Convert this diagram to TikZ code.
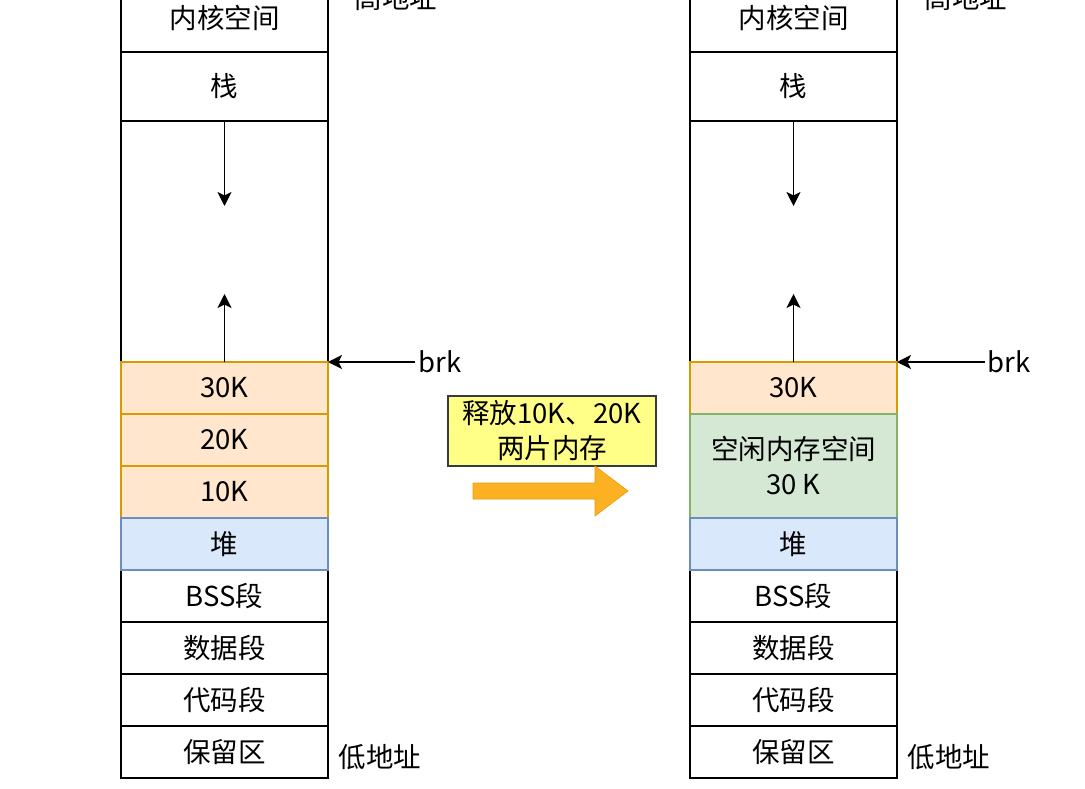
\documentclass[tikz,border=0pt]{standalone}
\usepackage{fontspec}
\setmainfont{Noto Sans CJK SC}
\usetikzlibrary{arrows.meta}
\definecolor{orfill}{HTML}{FFE6CC}
\definecolor{orline}{HTML}{D79B00}
\definecolor{grfill}{HTML}{D5E8D4}
\definecolor{grline}{HTML}{82B366}
\definecolor{blfill}{HTML}{DAE8FC}
\definecolor{blline}{HTML}{6C8EBF}
\definecolor{notefill}{HTML}{FFFF88}
\definecolor{noteline}{HTML}{36393D}
\definecolor{bigarrow}{HTML}{FBB122}
\definecolor{bigarrowline}{HTML}{E89B10}
\tikzset{
  txt/.style={font=\fontsize{27.5}{35}\selectfont, text=black},
  memrow/.style={txt, draw=black, line width=1.4pt, fill=white, minimum width=207pt, inner sep=0pt, outer sep=0pt, align=center},
  orrow/.style={memrow, draw=orline, fill=orfill},
  grrow/.style={memrow, draw=grline, fill=grfill},
  blrow/.style={memrow, draw=blline, fill=blfill},
  conn/.style={line width=1.4pt, -{Stealth[length=14pt,width=14pt,inset=3.5pt]}},
  note/.style={txt, draw=noteline, fill=notefill, line width=1.2pt, minimum width=208pt, minimum height=70pt, inner sep=0pt, align=center},
  lbl/.style={txt, inner sep=0pt}
}
\begin{document}
\begin{tikzpicture}[x=1pt,y=-1pt]
\useasboundingbox (0,0) rectangle (1085,789);
\clip (0,0) rectangle (1085,789);
\fill[white] (0,0) rectangle (1085,789);

% ---------- left column ----------
\node[memrow, minimum height=69pt] (Lkern) at (224.5,17.5) {内核空间};
\node[memrow, minimum height=69pt] (Lstack) at (224.5,86.5) {栈};
\node[memrow, minimum height=241pt] (Lgap) at (224.5,241.5) {};
\node[memrow, minimum height=52pt] (Lbss) at (224.5,596) {BSS段};
\node[memrow, minimum height=52pt] (Ldata) at (224.5,648) {数据段};
\node[memrow, minimum height=52pt] (Lcode) at (224.5,700) {代码段};
\node[memrow, minimum height=52pt] (Lresv) at (224.5,752) {保留区};
\node[orrow, minimum height=52pt] (L30) at (224.5,388) {30K};
\node[orrow, minimum height=52pt] (L20) at (224.5,440) {20K};
\node[orrow, minimum height=52pt] (L10) at (224.5,492) {10K};
\node[blrow, minimum height=52pt] (Lheap) at (224.5,544) {堆};

\coordinate (Ldown) at (224.5,206);
\coordinate (Lup) at (224.5,294);
\draw[conn] (Lstack.south) -- (Ldown);
\draw[conn] (L30.north) -- (Lup);
\coordinate (Lbrk) at (415,362);
\draw[conn] (Lbrk) -- (L30.north east);
\node[lbl] (Lbrktxt) at (440,362) {brk};
\node[lbl] (Lhigh) at (396,-2) {高地址};
\node[lbl] (Llow) at (380,757) {低地址};

% ---------- right column ----------
\node[memrow, minimum height=69pt] (Rkern) at (793.5,17.5) {内核空间};
\node[memrow, minimum height=69pt] (Rstack) at (793.5,86.5) {栈};
\node[memrow, minimum height=241pt] (Rgap) at (793.5,241.5) {};
\node[memrow, minimum height=52pt] (Rbss) at (793.5,596) {BSS段};
\node[memrow, minimum height=52pt] (Rdata) at (793.5,648) {数据段};
\node[memrow, minimum height=52pt] (Rcode) at (793.5,700) {代码段};
\node[memrow, minimum height=52pt] (Rresv) at (793.5,752) {保留区};
\node[orrow, minimum height=52pt] (R30) at (793.5,388) {30K};
\node[grrow, minimum height=104pt] (Rfree) at (793.5,466) {空闲内存空间\\30 K};
\node[blrow, minimum height=52pt] (Rheap) at (793.5,544) {堆};

\coordinate (Rdown) at (793.5,206);
\coordinate (Rup) at (793.5,294);
\draw[conn] (Rstack.south) -- (Rdown);
\draw[conn] (R30.north) -- (Rup);
\coordinate (Rbrk) at (985,362);
\draw[conn] (Rbrk) -- (R30.north east);
\node[lbl] (Rbrktxt) at (1009,362) {brk};
\node[lbl] (Rhigh) at (966,-2) {高地址};
\node[lbl] (Rlow) at (949,757) {低地址};

% ---------- middle ----------
\node[note] (note) at (552,431) {释放10K、20K\\两片内存};
\fill[bigarrow, draw=bigarrowline, line width=0.6pt]
  (473,483) -- (595,483) -- (595,466) -- (628,491) -- (595,516) -- (595,499) -- (473,499) -- cycle;
\end{tikzpicture}
\end{document}
